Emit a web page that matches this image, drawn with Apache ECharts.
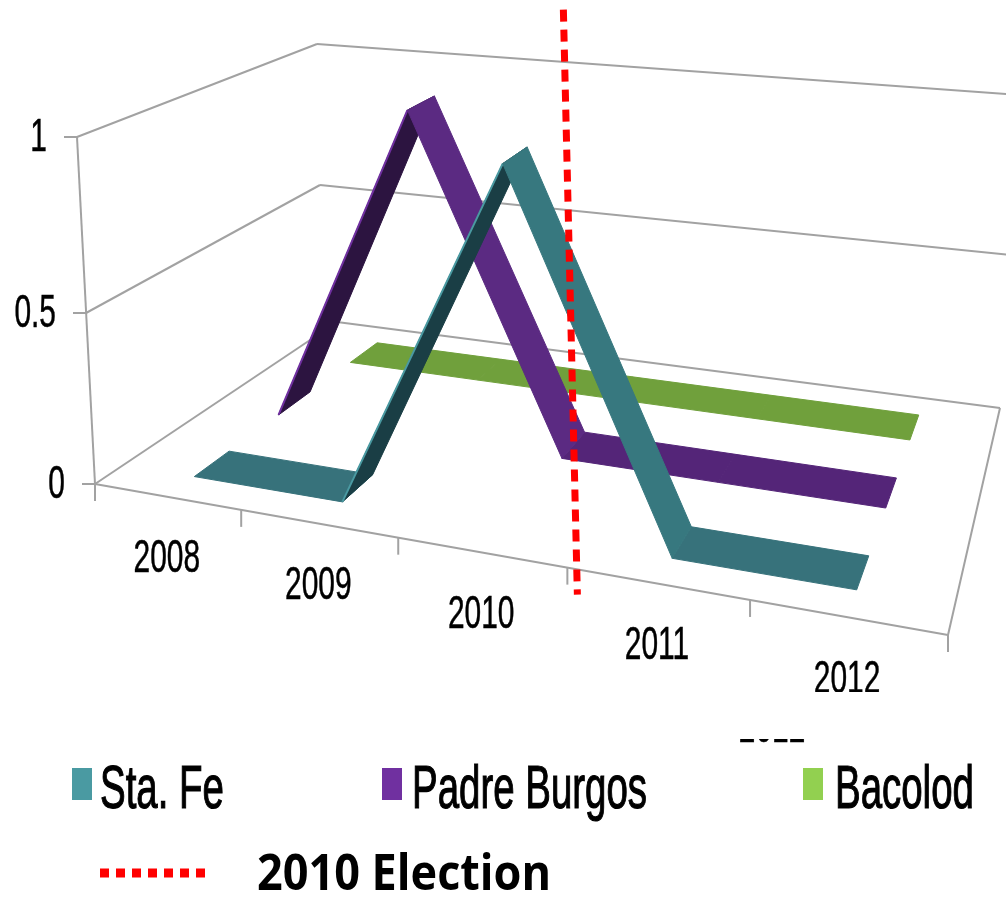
<!DOCTYPE html>
<html>
<head>
<meta charset="utf-8">
<title>2010 Election</title>
<style>
  html, body { margin: 0; padding: 0; background: #fff; }
  #main { width: 1006px; height: 898px; }
</style>
<script src="https://cdn.jsdelivr.net/npm/echarts@6/dist/echarts.min.js"></script>
</head>
<body>
<div id="main"></div>
<script>
// chart data
const years = ['2008', '2009', '2010', '2011', '2012'];
const valueTicks = [0, 0.5, 1];
const staFe = [0, 0, 1, 0, 0];
const padreBurgos = [0, 1, 0, 0, 0];
const bacolod = [0, 0, 0, 0, 0];
const electionYear = '2010';

// look of each ribbon, back to front. depth = near/far edge on the floor (0 front, 1 back)
const ribbons = [
  { name: 'Bacolod', values: bacolod, depth: [0.758, 0.899], flat: '#70a03c', fall: '#70a03c', rise: '#4f7329', legend: '#92d050' },
  { name: 'Padre Burgos', values: padreBurgos, depth: [0.423, 0.563], flat: '#542578', fall: '#5b2a82', rise: '#2c1440', legend: '#7030a0' },
  { name: 'Sta. Fe', values: staFe, depth: [0.095, 0.223], flat: '#37727b', fall: '#37787f', rise: '#1a3e45', legend: '#4a9aa2' }
];

// screen corners of the 3d box at each value tick: front left, front right, back right, back left
const boxCorners = [
  [[95, 484], [948, 635], [1000, 408], [337, 322]],
  [[86, 313], [956, 432], [1020, 256], [320, 185]],
  [[77, 137], [974, 225], [1020, 95], [317, 44]]
];

function squareToQuad(q) {
  const [p0, p1, p2, p3] = q;
  const sx = p0[0] - p1[0] + p2[0] - p3[0], sy = p0[1] - p1[1] + p2[1] - p3[1];
  const dx1 = p1[0] - p2[0], dx2 = p3[0] - p2[0], dy1 = p1[1] - p2[1], dy2 = p3[1] - p2[1];
  const det = dx1 * dy2 - dx2 * dy1;
  const g = (sx * dy2 - dx2 * sy) / det, h = (dx1 * sy - sx * dy1) / det;
  return function (u, w) {
    const d = g * u + h * w + 1;
    return [
      ((p1[0] - p0[0] + g * p1[0]) * u + (p3[0] - p0[0] + h * p3[0]) * w + p0[0]) / d,
      ((p1[1] - p0[1] + g * p1[1]) * u + (p3[1] - p0[1] + h * p3[1]) * w + p0[1]) / d
    ];
  };
}
const levelMaps = boxCorners.map(squareToQuad);

// u along the years, w into the depth, v up the value axis (all 0..1)
function project(u, w, v) {
  const n = levelMaps.length - 1;
  const i = Math.min(Math.floor(v * n), n - 1);
  const t = v * n - i;
  const a = levelMaps[i](u, w), b = levelMaps[i + 1](u, w);
  return [a[0] + (b[0] - a[0]) * t, a[1] + (b[1] - a[1]) * t];
}

// grid px -> box fractions, so the marks still go through the axes scales
function toBox(params, api, cat, val) {
  const p = api.coord([cat, val]), c = params.coordSys;
  return { u: (p[0] - c.x) / c.width, v: (c.y + c.height - p[1]) / c.height };
}

const axisColor = '#a2a2a2';
function line(a, b) {
  return { type: 'line', shape: { x1: a[0], y1: a[1], x2: b[0], y2: b[1] }, style: { stroke: axisColor, lineWidth: 2 } };
}
function label(text, x, y, align, clip) {
  const el = {
    type: 'text', x: x, y: y, scaleX: 0.65, z2: 5,
    style: { text: text, x: 0, y: 0, align: align, verticalAlign: 'middle', fill: '#000', font: '46px "Liberation Sans"', stroke: '#000', lineWidth: 0.5 }
  };
  if (clip) el.clipPath = { type: 'rect', shape: clip };
  return el;
}

function renderAxes(params, api) {
  const kids = [];
  valueTicks.forEach(function (t) {
    const v = toBox(params, api, 0, t).v;
    const fl = project(0, 0, v), bl = project(0, 1, v), br = project(1, 1, v);
    kids.push(line(fl, bl), line(bl, br), line([fl[0] - 13, fl[1]], fl));
    kids.push(label(String(t), fl[0] - 30, fl[1] + 1, 'right'));
  });
  kids.push(line(project(0, 0, 0), project(0, 0, 1)));
  kids.push(line(project(0, 0, 0), project(1, 0, 0)), line(project(1, 0, 0), project(1, 1, 0)));
  for (let i = 0; i <= years.length; i++) {
    const p = project(i / years.length, 0, 0);
    kids.push(line(p, [p[0], p[1] + 17]));
  }
  years.forEach(function (y, i) {
    const p = project(toBox(params, api, i, 0).u, 0, 0);
    const last = i === years.length - 1;
    kids.push(label(y, p[0], p[1] + 63, 'center', last ? { x: -60, y: -30, width: 120, height: 42 } : null));
    // the source picture has the last label cut, and a sliver of it left lower down
    if (last) kids.push(label(y, p[0] - 75, p[1] + 112, 'center', { x: -60, y: 10, width: 120, height: 10 }));
  });
  return { type: 'group', children: kids };
}

function renderRibbon(r) {
  return function (params, api) {
    const i = api.value(0);
    if (i >= r.values.length - 1) return null;
    const a = toBox(params, api, i, r.values[i]), b = toBox(params, api, i + 1, r.values[i + 1]);
    const kind = b.v > a.v ? 'rise' : (b.v < a.v ? 'fall' : 'flat');
    const front0 = project(a.u, r.depth[0], a.v), front1 = project(b.u, r.depth[0], b.v);
    const back1 = project(b.u, r.depth[1], b.v), back0 = project(a.u, r.depth[1], a.v);
    const z2 = { flat: 1, rise: 2, fall: 3 }[kind];
    const kids = [{
      type: 'polygon', z2: z2,
      shape: { points: [front0, front1, back1, back0] },
      style: { fill: r[kind], stroke: r[kind], lineWidth: 1 }
    }];
    if (kind === 'rise') {
      kids.push({ type: 'line', z2: z2, shape: { x1: front0[0], y1: front0[1], x2: front1[0], y2: front1[1] }, style: { stroke: r.legend, lineWidth: 2 } });
    }
    return { type: 'group', children: kids };
  };
}

function renderElection(params, api) {
  const u = (years.indexOf(electionYear) + 1) / years.length;
  const p = project(u, 0, 0);
  return {
    type: 'line',
    shape: { x1: p[0] - 4, y1: p[1] - 558, x2: p[0] + 10, y2: p[1] + 27 },
    style: { stroke: '#ff0000', lineWidth: 7, lineDash: [12, 8] }
  };
}

function legendText(text, x, y) {
  return {
    type: 'text', x: x, y: y, scaleX: 0.62,
    style: { text: text, x: 0, y: 0, verticalAlign: 'top', fill: '#000', font: '62px "Liberation Sans"', stroke: '#000', lineWidth: 1.2 }
  };
}
function legendSwatch(color, x) {
  return { type: 'rect', shape: { x: x, y: 768, width: 20, height: 32 }, style: { fill: color } };
}

const series = [{ type: 'custom', name: 'axes', silent: true, data: [[0, 0]], renderItem: renderAxes, z: 1 }];
ribbons.forEach(function (r, n) {
  series.push({
    type: 'custom', name: r.name, silent: true, z: 2 + n,
    data: r.values.map(function (v, i) { return [i, v]; }),
    renderItem: renderRibbon(r)
  });
});
series.push({ type: 'custom', name: '2010 Election', silent: true, z: 10, data: [[years.indexOf(electionYear), 0]], renderItem: renderElection });

const chart = echarts.init(document.getElementById('main'), null, { renderer: 'canvas' });
chart.setOption({
  animation: false,
  backgroundColor: '#fff',
  grid: { left: 0, right: 0, top: 0, bottom: 0 },
  xAxis: { type: 'category', data: years, show: false },
  yAxis: { type: 'value', min: 0, max: 1, show: false },
  series: series,
  graphic: [
    legendSwatch('#4a9aa2', 72), legendText('Sta. Fe', 100, 760),
    legendSwatch('#7030a0', 382), legendText('Padre Burgos', 412, 760),
    legendSwatch('#92d050', 803), legendText('Bacolod', 835, 760),
    { type: 'line', shape: { x1: 100, y1: 873, x2: 205, y2: 873 }, style: { stroke: '#ff0000', lineWidth: 9, lineDash: [9, 7] } },
    { type: 'text', x: 257, y: 851, scaleX: 0.9, style: { text: '2010 Election', fill: '#000', font: 'bold 50px "Open Sans"' } }
  ]
});
</script>
</body>
</html>
